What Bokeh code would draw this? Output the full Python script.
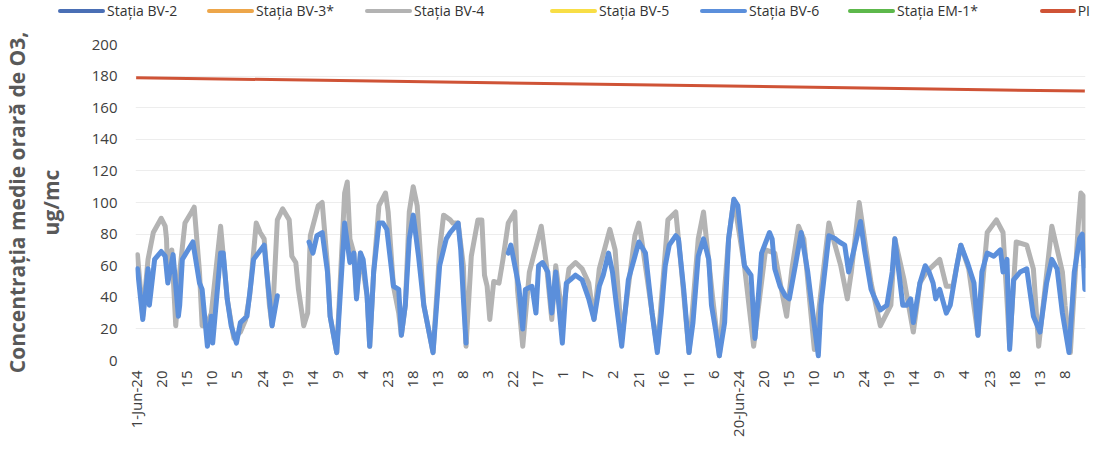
import math
from bokeh.plotting import figure
from bokeh.layouts import column
from bokeh.models import FixedTicker, Range1d, Div
from bokeh.embed import file_html
from bokeh.resources import INLINE

nan = float("nan")

# ---------------- data ----------------
series_names = ["Stația BV-2", "Stația BV-3*", "Stația BV-4", "Stația BV-5",
                "Stația BV-6", "Stația EM-1*", "PI"]
series_colors = ["#4A6FB5", "#EDA64A", "#B3B3B3", "#F8DE46",
                 "#5B8FDB", "#5DB84B", "#CF5336"]

# x-axis tick labels, one every 19 hours starting at 1-Jun-24 hour 1
tick_labels = ["1-Jun-24", "20", "15", "10", "5", "24", "19", "14", "9", "4",
               "23", "18", "13", "8", "3", "22", "17", "1", "7", "2", "21",
               "16", "11", "6", "20-Jun-24", "20", "15", "10", "5", "24",
               "19", "14", "9", "4", "23", "18", "13", "8"]
tick_every_hours = 19

# Stația BV-4 (hour index, ug/mc)
bv4_hours = [1, 5, 9, 13, 19, 22, 23, 24, 27, 30, 33, 37, 42, 44, 48, 50, 53, 57,
             64, 69, 74, 79, 83, 86, 91, 94, 97, 101, 103, 107, 111, 116, 118, 121,
             123, 126, 127, 130, 132, 138, 141, 145, 147, 152, 158, 160, 162, 165,
             167, 170, 175, 177, 180, 184, 189, 191, 195, 199, 201, 204, 207, 210,
             213, 218, 225, 230, 233, 238, 240, 244, 248, 250, 254, 259, 262, 264,
             266, 268, 271, 275, 278, 282, 287, 289, 293, 298, 307, 311, 315, 318,
             323, 328, 333, 338, 343, 347, 351, 359, 363, 368, 378, 381, 383, 395,
             403, 409, 414, 419, 426, 430, 437, 442, 449, 453, 461, 468, 477, 484,
             489, 493, 497, 502, 506, 514, 525, 534, 539, 542, 548, 552, 557, 564,
             572, 575, 582, 589, 594, 599, 609, 614, 619, 625, 631, 638, 645, 652,
             657, 662, 667, 675, 680, 684, 694, 702, 704, 708, 714, 716, 718, 719]
bv4_values = [67, 28, 64, 81, 90, 85, 77, 51, 70, 22, 56, 87, 94, 97, 56, 22, 22, 30,
              85, 39, 14, 18, 26, 41, 87, 81, 77, 35, 22, 89, 96, 89, 66, 62,
              45, 28, 22, 30, 79, 98, 100, 60, 28, 5, 106, 113, 77, 68,
              41, 68, 41, 9, 56, 98, 106, 94, 47, 30, 16, 35, 94, 110,
              98, 35, 5, 70, 92, 89, 87, 87, 60, 9, 66, 89, 89, 54,
              47, 26, 50, 49, 64, 87, 94, 45, 9, 56, 85, 60, 26, 60,
              28, 58, 62, 58, 49, 26, 58, 83, 70, 14, 79, 87, 77, 7,
              89, 94, 51, 5, 77, 94, 39, 3, 77, 102, 60, 9, 70, 68,
              45, 28, 58, 85, 77, 7, 87, 60, 39, 56, 100, 77, 49, 22,
              35, 77, 51, 18, 49, 56, 64, 47, 47, 73, 58, 16, 81, 89,
              81, 9, 75, 73, 58, 9, 85, 56, 35, 5, 85, 106, 104, 60]

# Stația BV-6 (hour index, ug/mc); nan marks missing hours
bv6_hours = [1, 5, 9, 10, 14, 19, 22, 24, 28, 32, 33, 35, 43, 48, 50, 54, 57, 58,
             64, 66, 69, 72, 76, 79, 84, 87, 89, 97, 101, 103, 107, 108,
             131, 134, 137, 141, 145, 147, 152, 158, 162, 165, 167, 170, 172, 175,
             177, 180, 184, 187, 190, 195, 199, 201, 204, 207, 210, 214, 218, 225,
             230, 235, 238, 244, 246, 248, 250, 251,
             282, 284, 290, 293, 295, 300, 303, 305, 308, 312, 315, 318, 323, 326,
             329, 333, 338, 343, 347, 351, 354, 358, 361, 364, 368, 373, 378, 381,
             386, 391, 395, 398, 401, 404, 409, 411, 415, 419, 422, 426, 430, 434,
             436, 439, 442, 446, 449, 453, 456, 461, 466, 469, 473, 474, 480, 482,
             484, 488, 492, 495, 500, 504, 507, 509, 514, 517, 519, 525, 530, 533,
             537, 540, 544, 549, 552, 557, 559, 564, 569, 573, 575, 578, 581, 584,
             587, 589, 594, 598, 601, 604, 606, 609, 614, 617, 622, 625, 630, 635,
             638, 641, 645, 650, 655, 657, 660, 662, 665, 670, 675, 680, 682, 685,
             690, 694, 698, 702, 707, 711, 715, 717, 719]
bv6_values = [58, 26, 58, 35, 64, 69, 66, 49, 67, 28, 35, 64, 75, 49, 45, 9, 28, 11,
              68, 68, 39, 22, 11, 24, 28, 49, 64, 73, 39, 22, 41, nan,
              75, 68, 79, 81, 56, 28, 5, 87, 62, 68, 39, 68, 64, 41,
              9, 56, 87, 87, 83, 47, 45, 16, 35, 77, 92, 66, 35, 5,
              60, 77, 81, 87, 70, 39, 11, nan,
              68, 73, 47, 20, 45, 47, 30, 60, 62, 56, 30, 56, 11, 49,
              51, 54, 51, 39, 26, 47, 54, 68, 56, 35, 9, 51, 66, 75,
              68, 30, 5, 30, 60, 73, 79, 77, 45, 5, 24, 66, 77, 64,
              35, 20, 3, 24, 77, 102, 98, 60, 54, 14, 56, 68, 81, 77,
              58, 47, 41, 39, 62, 81, 66, 56, 22, 3, 35, 79, 77, 75,
              73, 56, 70, 88, 70, 45, 41, 32, 35, 56, 77, 56, 35, 35,
              39, 24, 49, 60, 56, 49, 39, 45, 30, 35, 60, 73, 62, 49,
              16, 56, 68, 66, 70, 56, 64, 7, 51, 56, 58, 28, 24, 18,
              49, 64, 58, 30, 5, 56, 77, 80, 45]

# PI threshold line as it appears in the picture
pi_hours = [0, 719]
pi_values = [179, 170.5]

font = "Open Sans"

# ---------------- legend row (HTML) ----------------
legend_item_widths = [149, 158, 185, 150, 148, 192, 50]   # layout only
parts = []
for name, color, w in zip(series_names, series_colors, legend_item_widths):
    parts.append(
        f'<span style="display:inline-flex;align-items:center;width:{w}px;">'
        f'<span style="display:inline-block;width:47px;height:4px;border-radius:2px;'
        f'background:{color};margin-right:2px;"></span>'
        f'<span>{name}</span></span>')
legend_html = ('<div style="display:flex;align-items:center;height:16px;'
               f'padding-left:58px;padding-top:6px;font-family:\'{font}\';font-size:14px;'
               'color:#333333;white-space:nowrap;">' + "".join(parts) + '</div>')
legend_div = Div(text=legend_html, width=1101, height=30, margin=(0, 0, 0, 0))

# ---------------- main chart ----------------
p = figure(width=1101, height=422, output_backend="svg", toolbar_location=None,
           x_range=Range1d(-0.5, 719.5), y_range=Range1d(0, 200),
           min_border_left=129, min_border_right=16, min_border_top=14,
           min_border_bottom=92)
p.outline_line_color = None
p.background_fill_color = "white"
p.border_fill_color = "white"

p.xgrid.grid_line_color = None
p.ygrid.grid_line_color = "#EDEDED"
p.ygrid.grid_line_width = 1

p.yaxis.ticker = FixedTicker(ticks=list(range(0, 201, 20)))
p.yaxis.axis_line_color = None
p.yaxis.major_tick_line_color = None
p.yaxis.minor_tick_line_color = None
p.yaxis.major_label_text_font = font
p.yaxis.major_label_text_font_size = "15px"
p.yaxis.major_label_text_color = "#404040"
p.yaxis.major_label_standoff = 12
p.yaxis.axis_label = "Concentrația medie orară de O3,\nug/mc"
p.yaxis.axis_label_text_font = font
p.yaxis.axis_label_text_font_style = "bold"
p.yaxis.axis_label_text_font_size = "21px"
p.yaxis.axis_label_text_color = "#595959"
p.yaxis.axis_label_standoff = 24

tick_positions = [i * tick_every_hours for i in range(len(tick_labels))]
p.xaxis.ticker = FixedTicker(ticks=tick_positions)
p.xaxis.major_label_overrides = {t: lab for t, lab in zip(tick_positions, tick_labels)}
p.xaxis.major_label_orientation = math.pi / 2
p.xaxis.axis_line_color = None
p.xaxis.major_tick_line_color = None
p.xaxis.minor_tick_line_color = None
p.xaxis.major_label_text_font = font
p.xaxis.major_label_text_font_size = "15px"
p.xaxis.major_label_text_color = "#404040"
p.xaxis.major_label_standoff = 4

p.line(bv4_hours, bv4_values, line_color=series_colors[2],
       line_width=5, line_join="round", line_cap="round")
p.line(bv6_hours, bv6_values, line_color=series_colors[4],
       line_width=5, line_join="round", line_cap="round")
p.line(pi_hours, pi_values, line_color=series_colors[6], line_width=3)

layout = column(legend_div, p, spacing=0)
open("out.html", "w").write(file_html(layout, INLINE))
